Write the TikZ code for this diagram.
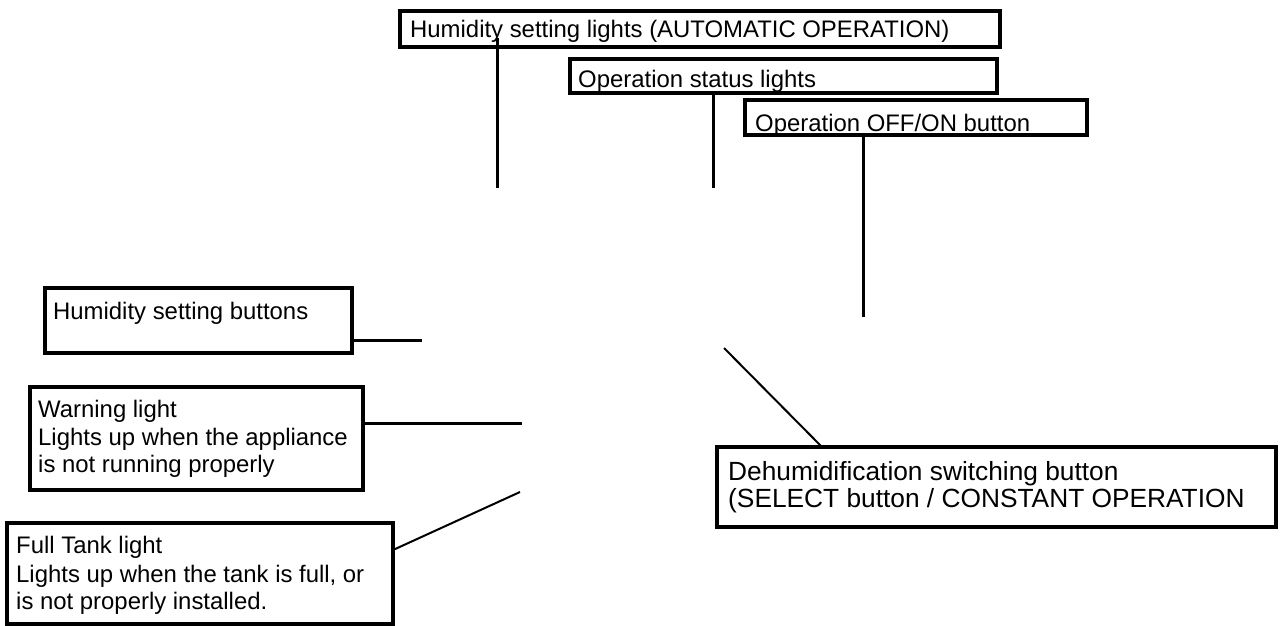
\documentclass[tikz,border=0pt]{standalone}
\usepackage{fontspec}
\setmainfont{Liberation Sans}
\begin{document}
\begin{tikzpicture}[x=1pt,y=-1pt,
  box/.style={draw=black, line width=3.6pt, inner sep=0pt, outer sep=0pt, anchor=north west, fill=none},
  txt/.style={inner sep=0pt, anchor=base west, font=\fontsize{23.9}{27.6}\selectfont},
  bigtxt/.style={inner sep=0pt, anchor=base west, font=\fontsize{26.3}{27}\selectfont},
  conn/.style={draw=black, line width=3pt},
  thinconn/.style={draw=black, line width=2pt}]
\useasboundingbox (0,0) rectangle (1283,626);
\fill[white] (0,0) rectangle (1283,626);

% boxes
\node[box, minimum width=600, minimum height=36] (b1) at (400,11) {};
\node[box, minimum width=427, minimum height=34] (b2) at (570,59) {};
\node[box, minimum width=342, minimum height=35] (b3) at (745,100) {};
\node[box, minimum width=307, minimum height=65] (b4) at (45,288) {};
\node[box, minimum width=333, minimum height=103] (b5) at (30,387) {};
\node[box, minimum width=386, minimum height=101] (b6) at (7,523) {};
\node[box, minimum width=559, minimum height=80] (b7) at (717,447) {};

% texts
\node[txt] (t1) at (410,38) {Humidity setting lights (AUTOMATIC OPERATION)};
\node[txt] (t2) at (578,88) {Operation status lights};
\node[txt] (t3) at (755,131) {Operation OFF/ON button};
\node[txt] (t4) at (53,319) {Humidity setting buttons};
\node[txt] (t5a) at (38,417) {Warning light};
\node[txt] (t5b) at (38,445) {Lights up when the appliance};
\node[txt] (t5c) at (38,472) {is not running properly};
\node[txt] (t6a) at (16,553) {Full Tank light};
\node[txt] (t6b) at (16,582) {Lights up when the tank is full, or};
\node[txt] (t6c) at (16,609) {is not properly installed.};
\node[bigtxt] (t7a) at (728,480) {Dehumidification switching button};
\node[bigtxt] (t7b) at (728,507) {(SELECT button / CONSTANT OPERATION};

% free ends of the connectors
\coordinate (s1) at (497,38);
\coordinate (e1) at (497,188);
\coordinate (s2) at (713,92);
\coordinate (e2) at (713,188);
\coordinate (e3) at (863,317);
\coordinate (e4) at (422,340);
\coordinate (e5) at (522,423);
\coordinate (s6) at (393,550);
\coordinate (e6) at (520,492);
\coordinate (e7) at (724,348);

% connectors
\draw[conn] (s1) -- (e1);
\draw[conn] (s2) -- (e2);
\draw[conn] (b3.south -| e3) -- (e3);
\draw[conn] (b4.east |- e4) -- (e4);
\draw[conn] (b5.east |- e5) -- (e5);
\draw[thinconn] (b6.east |- s6) -- (e6);
\draw[thinconn] (b7.north west -| 822,0) -- (e7);
\end{tikzpicture}
\end{document}
